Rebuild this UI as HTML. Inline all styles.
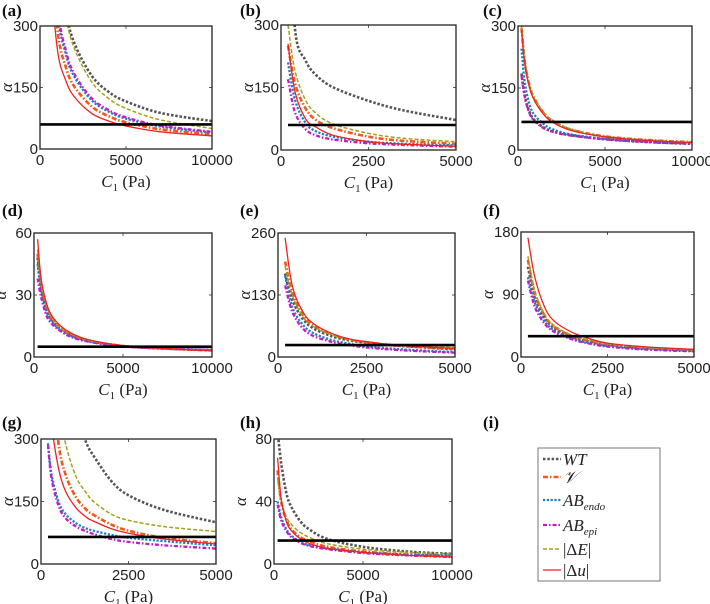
<!DOCTYPE html>
<html><head><meta charset="utf-8">
<style>
html,body{margin:0;padding:0;background:#fff;}
svg{display:block;font-family:"Liberation Sans",sans-serif;}
.tk{font-size:15px;fill:#222;}
.pl{font-family:"Liberation Serif",serif;font-weight:bold;font-size:17px;fill:#111;}
.ax{font-family:"Liberation Serif",serif;font-size:17px;fill:#222;}
</style></head>
<body>
<svg id="fig" width="710" height="604" viewBox="0 0 710 604"></svg>
<script>
// ---- data ----
const seriesNames = ["WT","V","ABendo","ABepi","dE","du"];
// panel a
const xsA = [500,1000,1500,2000,3000,4000,5000,7000,10000];
const aWT = [970,496,337,258,179,139,116,88,68];
const aV = [587,297,200,152,104,80,65,48,36];
const aEndo = [690,345,232,176,119,91,74,55,40];
const aEpi = [711,359,241,183,124,95,77,57,42];
const aDE = [975,488,326,245,164,123,99,71,50];
const aDU = [484,246,167,127,87,68,56,42,32];
// panel b
const xsB = [200,400,700,1000,1500,2500,3500,5000];
const bWT = [600,290,215,180,150,118,95,72];
const bV = [250,160,100,72,52,32,22,15];
const bEndo = [210,120,65,45,32,20,15,11];
const bEpi = [170,90,50,35,25,16,12,8];
const bDE = [300,190,120,88,62,40,28,20];
const bDU = [255,140,75,55,35,20,14,9];
// panel c
const xsC = [200,400,700,1000,1500,2000,3000,5000,7500,10000];
const cWT = [185,128,88,70,54,45,36,26,19,15];
const cV = [295,210,150,120,88,70,50,33,24,19];
const cEndo = [245,160,105,82,62,50,38,27,20,16];
const cEpi = [180,125,85,68,52,44,35,26,19,15];
const cDE = [300,215,152,120,90,72,51,33,24,19];
const cDU = [290,205,145,115,85,67,48,32,23,18];
// panel d
const xsD = [200,400,700,1000,1500,2000,3000,5000,7500,10000];
const dWT = [48,34,23,18,13.5,11,8,5.3,4,3.3];
const dV = [50,35,24,18.5,14,11,8,5.3,4,3.2];
const dEndo = [45,32,22,17,13,10.5,7.6,5.2,4,3.5];
const dEpi = [38,29,20,16,12.5,10,7.5,5.1,4,3.4];
const dDE = [52,36,25,19,14,11.5,8.2,5.5,4,3.2];
const dDU = [57,38,26,20,15,12,8.5,5.5,4,3];
// panel e
const xsE = [200,400,700,1000,1500,2000,2500,3500,5000];
const eWT = [175,120,80,60,44,35,30,23,16];
const eV = [200,135,88,66,48,37,31,23,17];
const eEndo = [170,105,68,50,36,28,22,16,10];
const eEpi = [150,95,60,44,32,25,20,14,9];
const eDE = [190,130,85,64,47,37,31,24,20];
const eDU = [250,150,95,70,50,38,32,24,18];
// panel f
const xsF = [200,400,700,1000,1500,2000,2500,3500,5000];
const fWT = [130,85,55,40,28,22,17,13,9];
const fV = [140,92,58,42,30,23,18,13,10];
const fEndo = [115,78,50,37,26,20,16,12,9];
const fEpi = [110,72,47,35,25,19,15,11,8];
const fDE = [145,95,60,44,31,24,19,14,10];
const fDU = [172,115,70,50,35,26,20,15,11];
// panel g
const xsG = [200,300,500,700,1000,1300,1500,2000,2500,3500,5000];
const gWT = [1600,1100,700,500,360,290,260,200,165,130,100];
const gV = [700,460,290,215,160,130,118,95,80,63,50];
const gEndo = [290,215,150,120,98,85,80,70,63,55,45];
const gEpi = [285,205,140,110,90,78,72,60,53,45,37];
const gDE = [1000,650,390,290,210,170,150,120,105,90,78];
const gDU = [500,340,230,175,135,112,103,85,74,60,48];
// panel h
const xsH = [200,400,700,1000,1500,2000,3000,5000,7500,10000];
const hWT = [85,65,45,36,27,22,16,11,8,6.5];
const hV = [60,40,28,22,17,14.5,11,8,6,5];
const hEndo = [40,30,22,18,14,12,10,7.5,6,5.5];
const hEpi = [38,28,21,17,13.5,11.5,9.5,7,5.5,4.5];
const hDE = [55,40,30,25,20,17,13,9.5,7.5,6.5];
const hDU = [68,42,27,21,16,13,10,7.5,5.5,4.5];
// thresholds and axis ranges
const thresholds = [60,60,68,5,25,30,65,15];
const xMaxes = [10000,5000,10000,10000,5000,5000,5000,10000];
const yMaxes = [300,300,300,60,260,180,300,80];
const xTickLabels = [["0","5000","10000"],["0","2500","5000"],["0","5000","10000"],["0","5000","10000"],["0","2500","5000"],["0","2500","5000"],["0","2500","5000"],["0","5000","10000"]];
const yTickLabels = [["0","150","300"],["0","150","300"],["0","150","300"],["0","30","60"],["0","130","260"],["0","90","180"],["0","150","300"],["0","40","80"]];
const panelLetters = ["(a)","(b)","(c)","(d)","(e)","(f)","(g)","(h)"];

const panels = [
 {xs:xsA, ys:[aWT,aV,aEndo,aEpi,aDE,aDU], box:[40,26,212,149], lab:[2,16], thStart:0},
 {xs:xsB, ys:[bWT,bV,bEndo,bEpi,bDE,bDU], box:[281,25,456,150], lab:[240,16], thStart:200},
 {xs:xsC, ys:[cWT,cV,cEndo,cEpi,cDE,cDU], box:[518,26,692,150], lab:[483,16], thStart:200},
 {xs:xsD, ys:[dWT,dV,dEndo,dEpi,dDE,dDU], box:[34,233,212,357], lab:[2,216], thStart:200},
 {xs:xsE, ys:[eWT,eV,eEndo,eEpi,eDE,eDU], box:[278,233,455,357], lab:[240,216], thStart:200},
 {xs:xsF, ys:[fWT,fV,fEndo,fEpi,fDE,fDU], box:[521,232,694,357], lab:[483,216], thStart:200},
 {xs:xsG, ys:[gWT,gV,gEndo,gEpi,gDE,gDU], box:[41,439,216,564], lab:[2,428], thStart:200},
 {xs:xsH, ys:[hWT,hV,hEndo,hEpi,hDE,hDU], box:[274,439,452,564], lab:[240,428], thStart:200}
];
const styles = [
 {c:"#555555",w:2.6,d:"2.5,1.8"},
 {c:"#f0581c",w:2.6,d:"5,2,1.5,2"},
 {c:"#1e7fc4",w:2.3,d:"2.2,1.6"},
 {c:"#c41cc4",w:2.3,d:"4,2,1.5,2"},
 {c:"#a3a020",w:1.5,d:"4,2"},
 {c:"#ee2222",w:1.3,d:""}
];
const NS="http://www.w3.org/2000/svg";
const svg=document.getElementById('fig');
function mk(tag,attrs,parent){const e=document.createElementNS(NS,tag);for(const k in attrs)e.setAttribute(k,attrs[k]);(parent||svg).appendChild(e);return e;}
function smooth(pts){let d="M"+pts[0][0].toFixed(1)+","+pts[0][1].toFixed(1);
 for(let i=0;i<pts.length-1;i++){const p0=pts[Math.max(0,i-1)],p1=pts[i],p2=pts[i+1],p3=pts[Math.min(pts.length-1,i+2)];
  const c1=[p1[0]+(p2[0]-p0[0])/6,p1[1]+(p2[1]-p0[1])/6],c2=[p2[0]-(p3[0]-p1[0])/6,p2[1]-(p3[1]-p1[1])/6];
  d+=" C"+c1[0].toFixed(1)+","+c1[1].toFixed(1)+" "+c2[0].toFixed(1)+","+c2[1].toFixed(1)+" "+p2[0].toFixed(1)+","+p2[1].toFixed(1);}
 return d;}
const defs=mk('defs',{});
panels.forEach((p,i)=>{
 const [x0,y0,x1,y1]=p.box;
 const xMax=xMaxes[i], yMax=yMaxes[i];
 const sx=v=>x0+(v/xMax)*(x1-x0), sy=v=>y1-(v/yMax)*(y1-y0);
 const g=mk('g',{});
 
 
 const cp=mk('clipPath',{id:'cp'+i},defs);
 mk('rect',{x:x0,y:y0,width:x1-x0,height:y1-y0},cp);
 const lab=mk('text',{x:p.lab[0],y:p.lab[1],class:'pl'},g); lab.textContent=panelLetters[i];
 
 
 // ticks
 for(let k=0;k<3;k++){
  const xv=xMax*k/2, xp=sx(xv);
  mk('line',{x1:xp,x2:xp,y1:y1,y2:y1-3,stroke:'#333','stroke-width':0.8},g);
  mk('line',{x1:xp,x2:xp,y1:y0,y2:y0+3,stroke:'#333','stroke-width':0.8},g);
  const t=mk('text',{x:xp,y:y1+16,class:'tk','text-anchor':'middle'},g); t.textContent=xTickLabels[i][k];
  
  
  const yv=yMax*k/2, yp=sy(yv);
  mk('line',{x1:x0,x2:x0+3,y1:yp,y2:yp,stroke:'#333','stroke-width':0.8},g);
  mk('line',{x1:x1,x2:x1-3,y1:yp,y2:yp,stroke:'#333','stroke-width':0.8},g);
  const ty=mk('text',{x:x0-2,y:yp+5,class:'tk','text-anchor':'end'},g); ty.textContent=yTickLabels[i][k];
  
  
 }
 // series
 const sg=mk('g',{'clip-path':'url(#cp'+i+')'},g);
 p.ys.forEach((ys,s)=>{
  const pts=p.xs.map((xv,j)=>[sx(xv),sy(ys[j])]);
  const st=styles[s];
  const path=mk('path',{d:smooth(pts),fill:'none',stroke:st.c,'stroke-width':st.w,'stroke-dasharray':st.d},sg);
  
  
 });
 const th=mk('line',{x1:sx(p.thStart),x2:x1,y1:sy(thresholds[i]),y2:sy(thresholds[i]),stroke:'#000','stroke-width':2.6},sg);
 
 
 const fr=mk('rect',{x:x0,y:y0,width:x1-x0,height:y1-y0,fill:'none',stroke:'#222','stroke-width':1.3},g);
 
 
 const yl=mk('text',{x:0,y:0,class:'ax','text-anchor':'middle',transform:'translate('+(x0-28)+','+((y0+y1)/2)+') rotate(-90)','font-style':'italic'},g);
 yl.textContent='α';
 
 
 const xl=mk('text',{x:(x0+x1)/2,y:y1+38,class:'ax','text-anchor':'middle'},g);
 xl.innerHTML='<tspan font-style="italic">C</tspan><tspan font-size="11" dy="4">1</tspan><tspan dy="-4"> (Pa)</tspan>';
 
 
});
// legend
const li=mk('text',{x:483,y:428,class:'pl'}); li.textContent='(i)';


const lg=mk('g',{});


mk('rect',{x:538,y:448,width:122,height:133,fill:'#fff',stroke:'#777','stroke-width':1},lg);
const legY=[459,477,500,525,549,570];
const legHTML=['<tspan font-style="italic">WT</tspan>','<tspan font-style="italic">𝒱</tspan>','<tspan font-style="italic">AB</tspan><tspan font-size="11" dy="4" font-style="italic">endo</tspan>','<tspan font-style="italic">AB</tspan><tspan font-size="11" dy="4" font-style="italic">epi</tspan>','|Δ<tspan font-style="italic">E</tspan>|','|Δ<tspan font-style="italic">u</tspan>|'];
legY.forEach((y,s)=>{
 const e=mk('g',{},lg);
 
 
 const st=styles[s];
 mk('line',{x1:543,x2:561,y1:y,y2:y,stroke:st.c,'stroke-width':st.w,'stroke-dasharray':st.d},e);
 const t=mk('text',{x:563,y:y+6,class:'ax'},e); t.innerHTML=legHTML[s];
});
</script>
</body></html>
